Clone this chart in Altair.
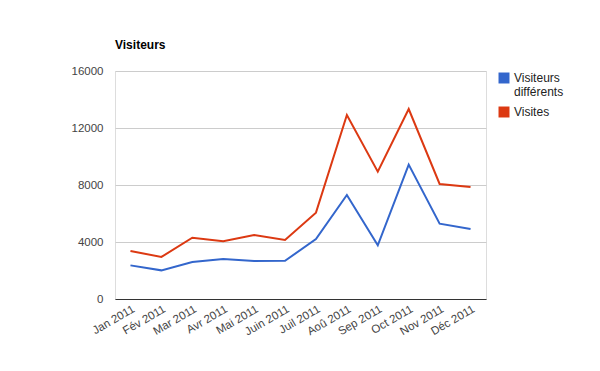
import altair as alt
import pandas as pd

months = ["Jan 2011", "Fév 2011", "Mar 2011", "Avr 2011", "Mai 2011", "Juin 2011",
          "Juil 2011", "Aoû 2011", "Sep 2011", "Oct 2011", "Nov 2011", "Déc 2011"]
visiteurs_differents = [2360, 2010, 2600, 2810, 2670, 2680, 4210, 7300, 3770, 9430, 5290, 4910]
visites = [3370, 2950, 4300, 4050, 4490, 4140, 6060, 12910, 8940, 13330, 8070, 7860]
series_names = ["Visiteurs différents", "Visites"]
series_colors = ["#3366cc", "#dc3912"]
y_ticks = [0, 4000, 8000, 12000, 16000]

rows = []
for i, m in enumerate(months):
    rows.append({"mois": m, "serie": series_names[0], "valeur": visiteurs_differents[i]})
    rows.append({"mois": m, "serie": series_names[1], "valeur": visites[i]})
df = pd.DataFrame(rows)

FONT = "Liberation Sans"

chart = alt.Chart(df).mark_line(strokeWidth=2).encode(
    x=alt.X("mois:N", sort=months,
            scale=alt.Scale(type="point", padding=0.5),
            axis=alt.Axis(title=None, labelAngle=-30, labelAlign="right", labelBaseline="top",
                          ticks=False, domainColor="#333333", domainWidth=1,
                          labelColor="#444444", labelFontSize=11.5, labelFont=FONT,
                          labelPadding=4, grid=False)),
    y=alt.Y("valeur:Q", scale=alt.Scale(domain=[0, 16000], nice=False),
            axis=alt.Axis(title=None, values=y_ticks, format="d", ticks=False, domain=False,
                          gridColor="#cccccc", labelColor="#444444", labelFontSize=11.5,
                          labelFont=FONT, labelPadding=12)),
    color=alt.Color("serie:N", sort=series_names,
                    scale=alt.Scale(domain=series_names, range=series_colors),
                    legend=alt.Legend(title=None, orient="none", legendX=383, legendY=1,
                                      symbolType="square", symbolSize=30,
                                      symbolStrokeWidth=5.5, symbolOpacity=1,
                                      labelFontSize=12, labelFont=FONT, labelColor="#222222",
                                      labelExpr="datum.label == 'Visiteurs différents' ? ['Visiteurs', 'différents'] : datum.label",
                                      rowPadding=0, labelOffset=4)),
).properties(
    width=371, height=228,
    title=alt.TitleParams("Visiteurs", anchor="start", frame="group", font=FONT, fontSize=12,
                          fontWeight="bold", color="#000000", offset=13),
    autosize=alt.AutoSizeParams(type="none"),
    padding={"left": 107, "top": 63, "right": 106, "bottom": 64},
).configure_view(stroke=None).configure(background="white")

chart.save("out.html", embed_options={"renderer": "svg", "actions": False})
